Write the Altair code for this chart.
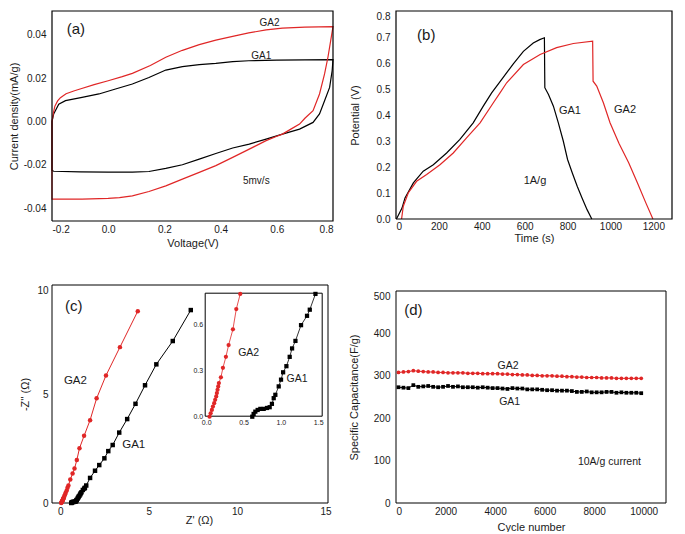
import altair as alt
import pandas as pd

# ---------------- data ----------------
# (a) cyclic voltammetry at 5 mV/s (forward sweep followed by reverse sweep)
cv_ga1_v = [-0.2, -0.194, -0.176, -0.152, -0.093, -0.033, 0.026, 0.086, 0.145, 0.205, 0.264, 0.324, 0.383, 0.443, 0.5, 0.6, 0.7, 0.8,
            0.8, 0.797, 0.788, 0.77, 0.752, 0.729, 0.681, 0.62, 0.562, 0.502, 0.443, 0.383, 0.324, 0.264, 0.205, 0.145, 0.086, 0.0, -0.1, -0.194, -0.2, -0.2]
cv_ga1_i = [0.0, 0.0035, 0.008, 0.0096, 0.0111, 0.0127, 0.015, 0.0173, 0.0203, 0.0237, 0.0253, 0.0262, 0.0268, 0.0276, 0.028, 0.0283, 0.0284, 0.0285,
            0.0285, 0.0234, 0.0157, 0.0096, 0.0035, -0.0004, -0.0035, -0.0058, -0.0081, -0.0104, -0.0122, -0.0147, -0.0173, -0.0199, -0.0216, -0.023, -0.0233, -0.0233, -0.0232, -0.0229, -0.0225, 0.0]
cv_ga2_v = [-0.2, -0.195, -0.19, -0.18, -0.17, -0.15, -0.12, -0.1, -0.05, 0.0, 0.05, 0.086, 0.15, 0.205, 0.264, 0.324, 0.383, 0.443, 0.5, 0.562, 0.62, 0.7, 0.8,
            0.8, 0.794, 0.782, 0.77, 0.752, 0.729, 0.7, 0.681, 0.65, 0.62, 0.6, 0.562, 0.502, 0.443, 0.383, 0.324, 0.264, 0.205, 0.145, 0.086, 0.04, 0.0, -0.093, -0.195, -0.2, -0.2]
cv_ga2_i = [0.0, 0.004, 0.007, 0.0095, 0.011, 0.0128, 0.0142, 0.015, 0.017, 0.0188, 0.0207, 0.0222, 0.0258, 0.0296, 0.0328, 0.0354, 0.0375, 0.0392, 0.0408, 0.0422, 0.043, 0.0435, 0.0437,
            0.0437, 0.039, 0.0296, 0.0219, 0.0127, 0.005, 0.0015, -0.0012, -0.0035, -0.0058, -0.0068, -0.0088, -0.0127, -0.0165, -0.0203, -0.0234, -0.0265, -0.0296, -0.0322, -0.0342, -0.035, -0.0354, -0.0357, -0.0357, -0.0357, 0.0]

# (b) galvanostatic charge / discharge at 1 A/g
gcd_ga1_t = [2, 28, 42, 81, 127, 174, 236, 298, 360, 407, 446, 500, 547, 594, 640, 670, 692, 694, 711, 734, 757, 780, 800, 823, 845, 868, 891, 913]
gcd_ga1_v = [0.0, 0.042, 0.081, 0.139, 0.184, 0.209, 0.254, 0.306, 0.37, 0.434, 0.485, 0.545, 0.597, 0.645, 0.677, 0.69, 0.697, 0.505, 0.479, 0.434, 0.37, 0.3, 0.229, 0.175, 0.126, 0.08, 0.036, 0.0]
gcd_ga2_t = [26, 34, 57, 96, 143, 205, 267, 329, 392, 454, 485, 516, 594, 672, 749, 827, 917, 919, 936, 967, 998, 1040, 1085, 1125, 1165, 1198]
gcd_ga2_v = [0.0, 0.049, 0.1, 0.145, 0.171, 0.209, 0.254, 0.312, 0.37, 0.447, 0.485, 0.524, 0.594, 0.633, 0.659, 0.675, 0.684, 0.53, 0.511, 0.447, 0.37, 0.29, 0.216, 0.14, 0.062, 0.0]

# (c) Nyquist plot
eis_ga1_re = [0.617, 0.635, 0.658, 0.689, 0.725, 0.77, 0.814, 0.85, 0.88, 0.904, 0.926, 0.971, 1.002, 1.03, 1.074, 1.118, 1.15, 1.195, 1.27, 1.35, 1.387, 1.463,
              1.68, 1.96, 2.2, 2.49, 2.71, 2.96, 3.33, 3.78, 4.25, 4.79, 5.43, 6.36, 7.38]
eis_ga1_im = [0.0, 0.018, 0.033, 0.044, 0.051, 0.051, 0.057, 0.062, 0.084, 0.121, 0.143, 0.198, 0.242, 0.29, 0.33, 0.391, 0.446, 0.495, 0.598, 0.659, 0.699, 0.802,
              1.15, 1.48, 1.74, 2.05, 2.38, 2.66, 3.23, 3.85, 4.55, 5.4, 6.36, 7.43, 8.85]
eis_ga2_re = [0.045, 0.06, 0.076, 0.09, 0.107, 0.12, 0.134, 0.143, 0.152, 0.161, 0.17, 0.197, 0.224, 0.264, 0.30, 0.358, 0.403, 0.456,
              0.56, 0.69, 0.80, 0.93, 1.08, 1.34, 1.68, 2.05, 2.58, 3.37, 4.38]
eis_ga2_im = [0.0, 0.022, 0.044, 0.066, 0.088, 0.11, 0.132, 0.154, 0.176, 0.198, 0.22, 0.257, 0.319, 0.391, 0.468, 0.571, 0.703, 0.802,
              1.08, 1.35, 1.58, 1.97, 2.51, 3.08, 3.8, 4.8, 5.85, 7.15, 8.8]

# (d) cycling stability at 10 A/g
cycles = [100, 300, 500, 700, 900, 1100, 1300, 1500, 1700, 1900,
          2100, 2300, 2500, 2700, 2900, 3100, 3300, 3500, 3700, 3900,
          4100, 4300, 4500, 4700, 4900, 5100, 5300, 5500, 5700, 5900,
          6100, 6300, 6500, 6700, 6900, 7100, 7300, 7500, 7700, 7900,
          8100, 8300, 8500, 8700, 8900, 9100, 9300, 9500, 9700, 9900]
cap_ga1 = [273, 272, 271, 278, 274, 275, 276, 274, 273, 274,
           276, 274, 275, 273, 273, 273, 272, 273, 272, 271,
           271, 270, 269, 271, 270, 270, 268, 268, 268, 267,
           266, 266, 265, 265, 265, 264, 262, 262, 263, 261,
           261, 261, 262, 262, 260, 261, 260, 260, 260, 259]
cap_ga2 = [308, 309, 310, 312, 311, 310, 309, 309, 308, 308,
           307, 307, 307, 307, 306, 306, 306, 305, 305, 305,
           305, 304, 304, 303, 303, 302, 302, 301, 301, 300,
           300, 300, 299, 299, 298, 298, 297, 297, 296, 296,
           296, 295, 295, 295, 294, 294, 294, 294, 294, 294]

series_names = ["GA1", "GA2"]
FRAME = "frame"

# axis ranges and tick values
a_xdom, a_ydom = [-0.2, 0.8], [-0.0458, 0.0509]
a_xmaj, a_ymaj = [-0.2, 0.0, 0.2, 0.4, 0.6, 0.8], [-0.04, -0.02, 0.0, 0.02, 0.04]
b_xdom, b_ydom = [0, 1287], [0, 0.8]
b_xmaj, b_ymaj = [0, 200, 400, 600, 800, 1000, 1200], [0.0, 0.1, 0.2, 0.3, 0.4, 0.5, 0.6, 0.7, 0.8]
c_xdom, c_ydom = [-0.475, 15.145], [0, 10]
c_xmaj, c_ymaj = [0, 5, 10, 15], [0, 5, 10]
ci_xdom, ci_ydom = [-0.02, 1.56], [0.0, 0.81]          # inset of (c)
ci_xmaj, ci_ymaj = [0.0, 0.5, 1.0, 1.5], [0.0, 0.3, 0.6]
d_xdom, d_ydom = [0, 10900], [0, 500]
d_xmaj, d_ymaj = [0, 2000, 4000, 6000, 8000, 10000], [0, 100, 200, 300, 400, 500]

# annotations (data coordinates)
ann_a_text, ann_a_x, ann_a_y = ["GA2", "GA1", "5mv/s"], [0.574, 0.545, 0.527], [0.0454, 0.0302, -0.0274]
ann_b_text, ann_b_x, ann_b_y = ["GA1", "GA2", "1A/g"], [811, 1068, 648], [0.416, 0.42, 0.146]
ann_c_text, ann_c_x, ann_c_y = ["GA2", "GA1"], [0.85, 4.15], [5.6, 2.64]
ann_ci_text, ann_ci_x, ann_ci_y = ["GA2", "GA1"], [0.569, 1.216], [0.418, 0.244]
ann_d_text, ann_d_x, ann_d_y = ["GA2", "GA1", "10A/g current"], [4523, 4590, 8617], [322, 238, 96.6]
panel_text = ["(a)", "(b)", "(c)", "(d)"]
panel_x = [-0.115, 141, 0.75, 700]
panel_y = [0.0426, 0.709, 9.05, 455]

# panel sizes (plot areas, px)
A_W, A_H = 281, 210
B_W, B_H = 276, 208
C_W, C_H = 276, 218
D_W, D_H = 270, 212

# ---------------- styling helpers ----------------
FONT = "Liberation Sans"
INK = "#1a1a1a"
RED = "#e02626"

# the plot border is drawn as one more closed line in the same line layer as the curves
color_scale = alt.Scale(domain=series_names + [FRAME], range=["#000000", RED, "#000000"])
shape_scale = alt.Scale(domain=series_names, range=["square", "circle"])
no_frame = "datum.series != '%s'" % FRAME


def long_df(d, xn, yn, xdom, ydom):
    rows = []
    for name, (xs, ys) in d.items():
        for k, (a, b) in enumerate(zip(xs, ys)):
            rows.append({"series": name, xn: a, yn: b, "order": k})
    corners_x = [xdom[0], xdom[1], xdom[1], xdom[0], xdom[0]]
    corners_y = [ydom[0], ydom[0], ydom[1], ydom[1], ydom[0]]
    for k, (a, b) in enumerate(zip(corners_x, corners_y)):
        rows.append({"series": FRAME, xn: a, yn: b, "order": k})
    return pd.DataFrame(rows)


def ann_df(texts, xs, ys):
    return pd.DataFrame({"label": texts, "x": xs, "y": ys})


def lin(dom, rng):
    return alt.Scale(domain=dom, range=rng, nice=False, zero=False)


def lab_axis(title, values, fmt, orient, label_pad, title_pad, **extra):
    return alt.Axis(title=title, values=values, format=fmt, orient=orient,
                    ticks=False, tickSize=0, domain=False, grid=False, labelOverlap=False, zindex=1,
                    labelFont=FONT, labelFontSize=10, labelColor=INK, labelPadding=label_pad,
                    titleFont=FONT, titleFontSize=11, titleFontWeight="normal", titleColor=INK,
                    titlePadding=title_pad, **extra)


def text_layer(df, xsc, ysc, size):
    return alt.Chart(df).mark_text(font=FONT, fontSize=size, color=INK, align="center", baseline="middle").encode(
        x=alt.X("x:Q", scale=xsc, axis=None), y=alt.Y("y:Q", scale=ysc, axis=None), text="label:N")


def panel_label(i, xsc, ysc):
    return text_layer(ann_df([panel_text[i]], [panel_x[i]], [panel_y[i]]), xsc, ysc, 15)


minus_fix = "replace(datum.label, '\u2212', '-')"


def top_flush(limit):
    return {"condition": {"test": "datum.value >= %s" % limit, "value": "top"}, "value": "middle"}


# ---------------- (a) ----------------
df_a = long_df({"GA1": (cv_ga1_v, cv_ga1_i), "GA2": (cv_ga2_v, cv_ga2_i)}, "V", "I", a_xdom, a_ydom)
xs_a, ys_a = lin(a_xdom, [0, A_W]), lin(a_ydom, [A_H, 0])
lines_a = alt.Chart(df_a).mark_line(strokeWidth=1.2).encode(
    x=alt.X("V:Q", scale=xs_a, axis=lab_axis("Voltage(V)", a_xmaj, ".1f", "bottom", 3, 3, labelExpr=minus_fix)),
    y=alt.Y("I:Q", scale=ys_a, axis=lab_axis("Current density(mA/g)", a_ymaj, ".2f", "left", 6, 3.5, labelExpr=minus_fix)),
    color=alt.Color("series:N", scale=color_scale, legend=None),
    order="order:Q")
chart_a = alt.layer(
    lines_a,
    text_layer(ann_df(ann_a_text, ann_a_x, ann_a_y), xs_a, ys_a, 10),
    panel_label(0, xs_a, ys_a),
).resolve_axis(x="independent", y="independent").properties(width=A_W, height=A_H)

# ---------------- (b) ----------------
df_b = long_df({"GA1": (gcd_ga1_t, gcd_ga1_v), "GA2": (gcd_ga2_t, gcd_ga2_v)}, "t", "P", b_xdom, b_ydom)
xs_b, ys_b = lin(b_xdom, [0, B_W]), lin(b_ydom, [B_H, 0])
lines_b = alt.Chart(df_b).mark_line(strokeWidth=1.2).encode(
    x=alt.X("t:Q", scale=xs_b, axis=lab_axis("Time (s)", b_xmaj, "d", "bottom", 2, 1)),
    y=alt.Y("P:Q", scale=ys_b, axis=lab_axis("Potential (V)", b_ymaj, ".1f", "left", 6, 16, labelBaseline=top_flush(0.79))),
    color=alt.Color("series:N", scale=color_scale, legend=None),
    order="order:Q")
chart_b = alt.layer(
    lines_b,
    text_layer(ann_df(ann_b_text, ann_b_x, ann_b_y), xs_b, ys_b, 11),
    panel_label(1, xs_b, ys_b),
).resolve_axis(x="independent", y="independent").properties(width=B_W, height=B_H)

# ---------------- (c) ----------------
df_c = long_df({"GA1": (eis_ga1_re, eis_ga1_im), "GA2": (eis_ga2_re, eis_ga2_im)}, "zre", "zim", c_xdom, c_ydom)
xs_c, ys_c = lin(c_xdom, [0, C_W]), lin(c_ydom, [C_H, 0])
lines_c = alt.Chart(df_c).mark_line(strokeWidth=1.0).encode(
    x=alt.X("zre:Q", scale=xs_c, axis=lab_axis("Z' (\u03a9)", c_xmaj, "d", "bottom", 3, -2, titleX=147)),
    y=alt.Y("zim:Q", scale=ys_c, axis=lab_axis("-Z'' (\u03a9)", c_ymaj, "d", "left", 4, 6, labelBaseline=top_flush(10))),
    color=alt.Color("series:N", scale=color_scale, legend=None),
    order="order:Q")
points_c = alt.Chart(df_c).transform_filter(no_frame).mark_point(filled=True, size=20, opacity=1).encode(
    x=alt.X("zre:Q", scale=xs_c, axis=None), y=alt.Y("zim:Q", scale=ys_c, axis=None),
    color=alt.Color("series:N", scale=color_scale, legend=None),
    shape=alt.Shape("series:N", scale=shape_scale, legend=None))
main_c = alt.layer(
    lines_c, points_c,
    text_layer(ann_df(ann_c_text, ann_c_x, ann_c_y), xs_c, ys_c, 11.5),
    panel_label(2, xs_c, ys_c),
).resolve_axis(x="independent", y="independent")

# inset (same data, zoomed) drawn with its own scales inside panel (c)
xs_in = lin(ci_xdom, [152.7, 270.7])
ys_in = lin(ci_ydom, [131.7, 7.7])
in_filter = "datum.zre <= %s && datum.zim <= %s && %s" % (ci_xdom[1], ci_ydom[1], no_frame)
inset_ax_style = dict(grid=False, title=None, labelFont=FONT, labelFontSize=7, labelColor=INK, zindex=1,
                      domain=False, ticks=False, tickSize=0, labelPadding=2)
inset_box = pd.DataFrame({"x0": [ci_xdom[0]], "x1": [ci_xdom[1]], "y0": [ci_ydom[0]], "y1": [ci_ydom[1]]})
inset_frame = alt.Chart(inset_box).mark_rect(fill="white", stroke="#000000", strokeWidth=1,
                                             xOffset=0.5, x2Offset=-0.5, yOffset=-0.5, y2Offset=0.5).encode(
    x=alt.X("x0:Q", scale=xs_in, axis=alt.Axis(values=ci_xmaj, format=".1f", orient="bottom", offset=-86.3, **inset_ax_style)),
    x2="x1:Q",
    y=alt.Y("y0:Q", scale=ys_in, axis=alt.Axis(values=ci_ymaj, format=".1f", orient="left", offset=-152.7, **inset_ax_style)),
    y2="y1:Q")
inset_lines = alt.Chart(df_c).transform_filter(in_filter).mark_line(strokeWidth=0.8).encode(
    x=alt.X("zre:Q", scale=xs_in, axis=None),
    y=alt.Y("zim:Q", scale=ys_in, axis=None),
    color=alt.Color("series:N", scale=color_scale, legend=None),
    order="order:Q")
inset_points = alt.Chart(df_c).transform_filter(in_filter).mark_point(filled=True, size=18, opacity=1).encode(
    x=alt.X("zre:Q", scale=xs_in, axis=None),
    y=alt.Y("zim:Q", scale=ys_in, axis=None),
    color=alt.Color("series:N", scale=color_scale, legend=None),
    shape=alt.Shape("series:N", scale=shape_scale, legend=None))
inset_c = alt.layer(
    inset_frame, inset_lines, inset_points,
    text_layer(ann_df(ann_ci_text, ann_ci_x, ann_ci_y), xs_in, ys_in, 10.5),
).resolve_axis(x="independent", y="independent")

chart_c = alt.layer(main_c, inset_c).resolve_scale(x="independent", y="independent").properties(width=C_W, height=C_H)

# ---------------- (d) ----------------
df_d = long_df({"GA1": (cycles, cap_ga1), "GA2": (cycles, cap_ga2)}, "cyc", "cap", d_xdom, d_ydom)
xs_d, ys_d = lin(d_xdom, [0, D_W]), lin(d_ydom, [D_H, 0])
lines_d = alt.Chart(df_d).mark_line(strokeWidth=1.0).encode(
    x=alt.X("cyc:Q", scale=xs_d, axis=lab_axis("Cycle number", d_xmaj, "d", "bottom", 3, 5)),
    y=alt.Y("cap:Q", scale=ys_d, axis=lab_axis("Specific Capacitance(F/g)", d_ymaj, "d", "left", 6, 14,
                                               labelBaseline=top_flush(500))),
    color=alt.Color("series:N", scale=color_scale, legend=None),
    order="order:Q")
points_d = alt.Chart(df_d).transform_filter(no_frame).mark_point(filled=True, size=14, opacity=1).encode(
    x=alt.X("cyc:Q", scale=xs_d, axis=None), y=alt.Y("cap:Q", scale=ys_d, axis=None),
    color=alt.Color("series:N", scale=color_scale, legend=None),
    shape=alt.Shape("series:N", scale=shape_scale, legend=None))
chart_d = alt.layer(
    lines_d, points_d,
    text_layer(ann_df(ann_d_text, ann_d_x, ann_d_y), xs_d, ys_d, 10.5),
    panel_label(3, xs_d, ys_d),
).resolve_axis(x="independent", y="independent").properties(width=D_W, height=D_H)

# ---------------- layout ----------------
# a thin invisible strip above (d) so that its frame sits a few pixels lower than (c)
spacer = alt.Chart(pd.DataFrame({"s": [0]})).mark_point(opacity=0, size=1).encode(
    x=alt.X("s:Q", axis=None), y=alt.Y("s:Q", axis=None)
).properties(width=10, height=4, view=alt.ViewBackground(strokeOpacity=0))
cell_d = alt.vconcat(spacer, chart_d, spacing=0)

chart = alt.concat(chart_a, chart_b, chart_c, cell_d, columns=2, spacing={"column": 12, "row": 35}).properties(
    padding=0
).configure(
    background="white"
).configure_view(
    strokeOpacity=0
).configure_axis(minExtent=0)

chart.save("out.html", embed_options={"renderer": "svg", "actions": False})
